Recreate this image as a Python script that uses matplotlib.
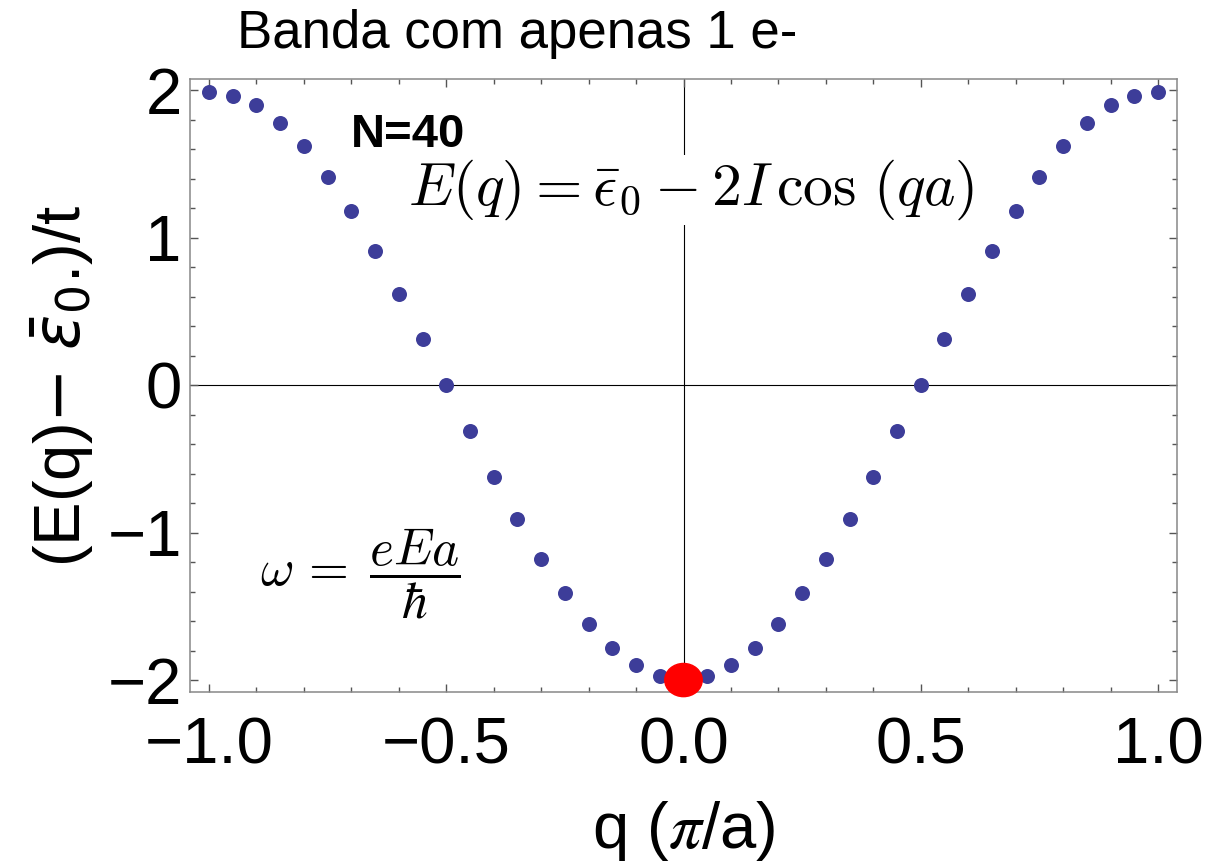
import matplotlib
matplotlib.use("Agg")
import matplotlib.pyplot as plt
from matplotlib.patches import Ellipse
from matplotlib.ticker import MultipleLocator

plt.rcParams['font.family'] = ['Liberation Sans', 'DejaVu Sans']
plt.rcParams['mathtext.fontset'] = 'cm'

# band points, q in units of pi/a, energy in units of t
q_vals = [-1.00, -0.95, -0.90, -0.85, -0.80, -0.75, -0.70, -0.65, -0.60, -0.55,
          -0.50, -0.45, -0.40, -0.35, -0.30, -0.25, -0.20, -0.15, -0.10, -0.05,
          0.00, 0.05, 0.10, 0.15, 0.20, 0.25, 0.30, 0.35, 0.40, 0.45,
          0.50, 0.55, 0.60, 0.65, 0.70, 0.75, 0.80, 0.85, 0.90, 0.95, 1.00]
E_vals = [1.99, 1.96, 1.90, 1.78, 1.62, 1.41, 1.18, 0.91, 0.62, 0.31,
          0.00, -0.31, -0.62, -0.91, -1.18, -1.41, -1.62, -1.78, -1.90, -1.97,
          -2.00, -1.97, -1.90, -1.78, -1.62, -1.41, -1.18, -0.91, -0.62, -0.31,
          0.00, 0.31, 0.62, 0.91, 1.18, 1.41, 1.62, 1.78, 1.90, 1.96, 1.99]

# the electron (red dot)
red_q = 0.0
red_E = -2.0

x_ticks = [-1.0, -0.5, 0.0, 0.5, 1.0]
y_ticks = [-2, -1, 0, 1, 2]

fig = plt.figure(figsize=(12.09, 8.67), dpi=100)
ax = fig.add_axes([190/1209, 1-692/867, (1177-190)/1209, (692-79)/867])

ax.axhline(0, color='black', lw=0.8, zorder=1)
ax.axvline(0, color='black', lw=0.8, zorder=1)

ax.plot(q_vals, E_vals, 'o', color='#3d3d99', markersize=10.8, markeredgewidth=0, zorder=3)

ax.add_patch(Ellipse((red_q, red_E), 0.079, 0.225, color='red', zorder=4, clip_on=False))

ax.set_xlim(-1.04, 1.04)
ax.set_ylim(-2.081, 2.075)
ax.set_xticks(x_ticks)
ax.set_xticklabels(['−1.0', '−0.5', '0.0', '0.5', '1.0'])
ax.set_yticks(y_ticks)
ax.xaxis.set_minor_locator(MultipleLocator(0.1))
ax.yaxis.set_minor_locator(MultipleLocator(0.2))
ax.tick_params(which='both', direction='in', top=True, right=True, color='#555555', width=1)
ax.tick_params(which='major', length=6)
ax.tick_params(which='minor', length=3.5)
ax.tick_params(axis='x', which='major', labelsize=47, pad=18)
ax.tick_params(axis='y', which='major', labelsize=47, pad=6)
for sp in ax.spines.values():
    sp.set_color('#888888')
    sp.set_linewidth(1.1)

ax.set_xlabel(r'q ($\pi$/a)', fontsize=47, labelpad=16, math_fontfamily='stix')
ax.set_ylabel(r'(E(q)$-$ $\bar{\varepsilon}_0$.)/t', fontsize=47, labelpad=8,
              math_fontfamily='dejavusans')

fig.text(237/1209, 1-48/867, 'Banda com apenas 1 e-', fontsize=38, ha='left', va='baseline')

ax.text(-0.700, 1.614, 'N=40', fontsize=34, fontweight='bold', ha='left', va='baseline')
ax.text(0.017, 1.322, r'$E(q)=\bar{\epsilon}_0-2I\,\cos\,(qa)$', fontsize=43,
        ha='center', va='center', zorder=2,
        bbox=dict(facecolor='white', edgecolor='none', pad=2))
ax.text(-0.68, -1.28, r'$\omega\,=\;\dfrac{eEa}{\hbar}$', fontsize=37,
        ha='center', va='center')

fig.savefig('out.png', dpi=100)
